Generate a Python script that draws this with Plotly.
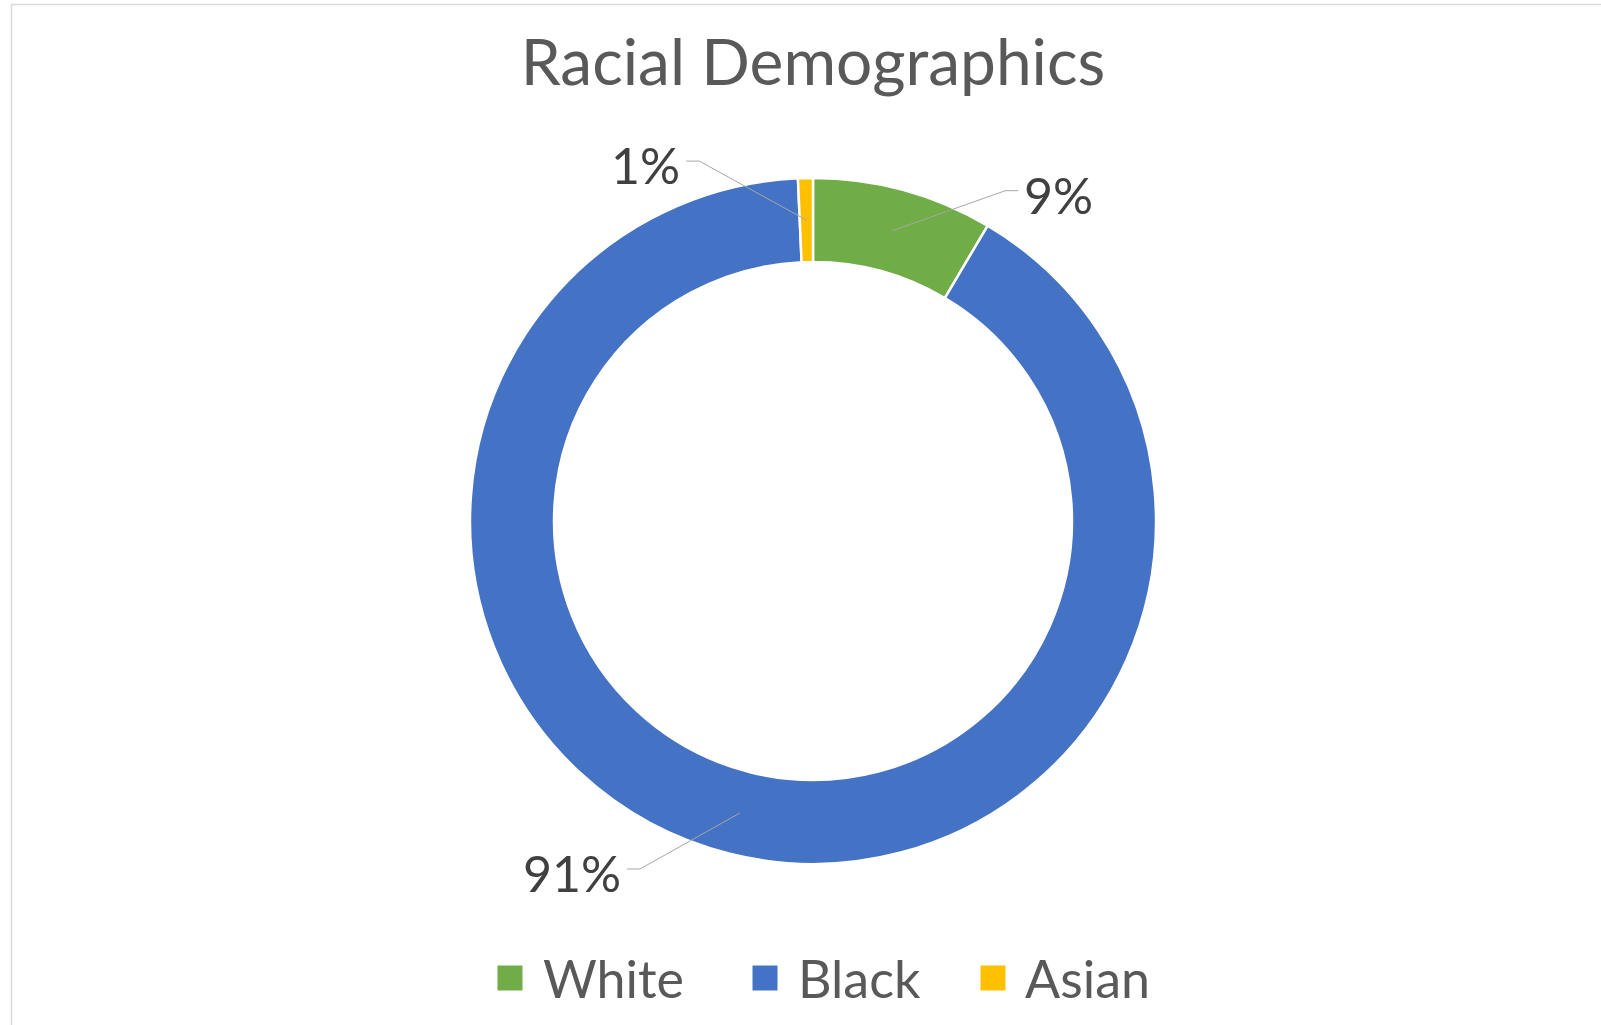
import math
import plotly.graph_objects as go

# ---- data ----
labels = ["White", "Black", "Asian"]
values = [8.5, 90.8, 0.7]
pct_labels = ["9%", "91%", "1%"]
colors = ["#70AD47", "#4472C4", "#FFC000"]
title_text = "Racial Demographics"

# ---- layout / style ----
W, H = 1601, 1025
CX, CY, R = 813, 521, 343          # donut centre and outer radius (px)
HOLE = 0.755
FONT = "Lato"
# leader-line end offset from slice tip (px); side sign is taken from x offset
label_offsets = [(126, -40), (-113, 56), (-120, -59)]
ELBOW = 13
TEXT_GAP = 4
legend_sq_x = [510, 765, 993]
legend_txt_x = [541, 796, 1023]
LEGEND_Y = 978
SQ = 25


def px2paper(x, y):
    return x / W, 1 - y / H


fig = go.Figure()
fig.add_trace(go.Pie(
    labels=labels, values=values, hole=HOLE, sort=False, direction="clockwise",
    rotation=0, marker=dict(colors=colors, line=dict(color="white", width=2.5)),
    textinfo="none", hoverinfo="label+percent", showlegend=False,
    domain=dict(x=[(CX - R) / W, (CX + R) / W], y=[1 - (CY + R) / H, 1 - (CY - R) / H]),
))

annotations = []
shapes = []
total = sum(values)
cum = 0.0
r_mid = R * (1 + HOLE) / 2
for lab, v, txt, off in zip(labels, values, pct_labels, label_offsets):
    mid = (cum + v / 2) / total * 2 * math.pi
    cum += v
    tx = CX + r_mid * math.sin(mid)
    ty = CY - r_mid * math.cos(mid)
    ex, ey = tx + off[0], ty + off[1]
    side = 1 if off[0] > 0 else -1
    bx = ex - side * ELBOW
    p0, p1, p2 = px2paper(tx, ty), px2paper(bx, ey), px2paper(ex, ey)
    shapes.append(dict(type="path", xref="paper", yref="paper",
                       path=f"M{p0[0]},{p0[1]} L{p1[0]},{p1[1]} L{p2[0]},{p2[1]}",
                       line=dict(color="#a6a6a6", width=1)))
    ax_, ay_ = px2paper(ex + side * TEXT_GAP, ey + 4)
    annotations.append(dict(
        x=ax_, y=ay_, xref="paper", yref="paper",
        xanchor="left" if side > 0 else "right", yanchor="middle",
        text=txt, showarrow=False,
        font=dict(family=FONT, size=50, color="#404040"),
    ))

# legend
for lab, col, sx, tx in zip(labels, colors, legend_sq_x, legend_txt_x):
    shapes.append(dict(type="rect", xref="paper", yref="paper",
                       x0=(sx - SQ / 2) / W, x1=(sx + SQ / 2) / W,
                       y0=1 - (LEGEND_Y + SQ / 2) / H, y1=1 - (LEGEND_Y - SQ / 2) / H,
                       fillcolor=col, line=dict(width=0)))
    annotations.append(dict(x=tx / W, y=1 - LEGEND_Y / H, xref="paper", yref="paper",
                            xanchor="left", yanchor="middle", showarrow=False, text=lab,
                            font=dict(family=FONT, size=52, color="#595959")))

# chart border
shapes.append(dict(type="rect", xref="paper", yref="paper",
                   x0=11.5 / W, x1=1.02, y0=-0.02, y1=1 - 4.5 / H,
                   line=dict(color="#d9d9d9", width=1.5), fillcolor="rgba(0,0,0,0)"))

fig.update_layout(
    width=W, height=H, margin=dict(l=0, r=0, t=0, b=0),
    paper_bgcolor="white", plot_bgcolor="white",
    title=dict(text=title_text, x=CX / W, xanchor="center", y=1 - 63 / H, yanchor="middle",
               font=dict(family=FONT, size=64, color="#595959")),
    annotations=annotations, shapes=shapes, showlegend=False,
)

fig.write_html("out.html")
